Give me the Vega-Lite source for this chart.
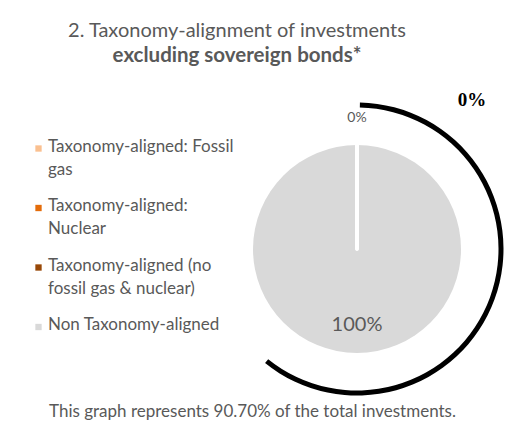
{
  "$schema": "https://vega.github.io/schema/vega-lite/v6.json",
  "width": 210,
  "height": 208,
  "autosize": {"type": "none"},
  "padding": {"left": 252, "top": 145, "right": 55, "bottom": 75},
  "background": "white",
  "config": {"view": {"stroke": null}, "font": "Lato"},
  "title": {
    "text": "2. Taxonomy-alignment of investments",
    "subtitle": "excluding sovereign bonds*",
    "font": "Lato",
    "fontSize": 20,
    "fontWeight": "normal",
    "color": "#595959",
    "subtitleFont": "Lato",
    "subtitleFontSize": 20.5,
    "subtitleFontWeight": "bold",
    "subtitleColor": "#595959",
    "subtitlePadding": 5,
    "anchor": "middle",
    "dx": -120,
    "offset": 25
  },
  "data": {
    "values": [
      {"category": "Taxonomy-aligned: Fossil gas", "share": 0},
      {"category": "Taxonomy-aligned: Nuclear", "share": 0},
      {"category": "Taxonomy-aligned (no fossil gas & nuclear)", "share": 0},
      {"category": "Non Taxonomy-aligned", "share": 1}
    ]
  },
  "layer": [
    {
      "mark": {"type": "arc", "strokeWidth": 0},
      "encoding": {
        "theta": {"field": "share", "type": "quantitative", "stack": true},
        "color": {
          "field": "category",
          "type": "nominal",
          "scale": {
            "domain": ["Taxonomy-aligned: Fossil gas", "Taxonomy-aligned: Nuclear", "Taxonomy-aligned (no fossil gas & nuclear)", "Non Taxonomy-aligned"],
            "range": ["#FAC090", "#E46C0A", "#984807", "#D9D9D9"]
          },
          "legend": {
            "orient": "none",
            "legendX": -222,
            "legendY": -5,
            "padding": 0,
            "title": null,
            "symbolType": "square",
            "symbolSize": 40,
            "symbolStrokeWidth": 0,
            "labelFont": "Lato",
            "labelFontSize": 17,
            "labelColor": "#595959",
            "labelLimit": 0,
            "labelOffset": 1,
            "rowPadding": 18.5,
            "labelBaseline": "top",
            "labelExpr": "datum.label == 'Taxonomy-aligned: Fossil gas' ? ['Taxonomy-aligned: Fossil', 'gas'] : datum.label == 'Taxonomy-aligned: Nuclear' ? ['Taxonomy-aligned:', 'Nuclear'] : datum.label == 'Taxonomy-aligned (no fossil gas & nuclear)' ? ['Taxonomy-aligned (no', 'fossil gas & nuclear)'] : datum.label",
            "encode": {"labels": {"update": {"lineHeight": {"value": 23}, "dy": {"value": -10}}}}
          }
        }
      }
    },
    {
      "mark": {"type": "arc", "fillOpacity": 0, "stroke": "white", "strokeJoin": "round"},
      "encoding": {
        "theta": {"field": "share", "type": "quantitative", "stack": true},
        "strokeWidth": {"condition": {"test": "datum.share == 0", "value": 3.5}, "value": 0}
      }
    },
    {
      "transform": [{"filter": "datum.category == 'Taxonomy-aligned: Fossil gas'"}],
      "mark": {"type": "text", "radius": 131, "font": "Lato", "fontSize": 14, "color": "#595959"},
      "encoding": {
        "theta": {"field": "share", "type": "quantitative", "stack": true},
        "text": {"field": "share", "type": "quantitative", "format": ".0%"}
      }
    },
    {
      "transform": [{"filter": "datum.share > 0"}],
      "mark": {"type": "text", "radius": 76, "font": "Lato", "fontSize": 20, "color": "#595959"},
      "encoding": {
        "theta": {"field": "share", "type": "quantitative", "stack": true},
        "text": {"field": "share", "type": "quantitative", "format": ".0%"}
      }
    },
    {
      "data": {"values": [{"aligned_total": 0}]},
      "mark": {"type": "arc", "theta": 0.02, "theta2": 3.82, "outerRadius": 146.5, "innerRadius": 141.5, "fill": "black"},
      "encoding": {}
    },
    {
      "data": {"values": [{"aligned_total": 0}]},
      "mark": {"type": "text", "theta": 0.658, "radius": 188, "font": "Liberation Serif", "fontWeight": "bold", "fontSize": 19, "color": "black"},
      "encoding": {
        "text": {"field": "aligned_total", "type": "quantitative", "format": ".0%"}
      }
    },
    {
      "data": {"values": [{"aligned_total": 0}]},
      "mark": {"type": "rule", "opacity": 0},
      "encoding": {
        "x": {
          "datum": 0,
          "type": "quantitative",
          "scale": {"domain": [0, 1]},
          "axis": {
            "title": "This graph represents 90.70% of the total investments.",
            "domain": false,
            "ticks": false,
            "labels": false,
            "grid": false,
            "titlePadding": 50,
            "titleX": 0,
            "titleAlign": "center",
            "titleFont": "Lato",
            "titleFontSize": 17,
            "titleFontWeight": "normal",
            "titleColor": "#595959"
          }
        }
      }
    }
  ]
}
